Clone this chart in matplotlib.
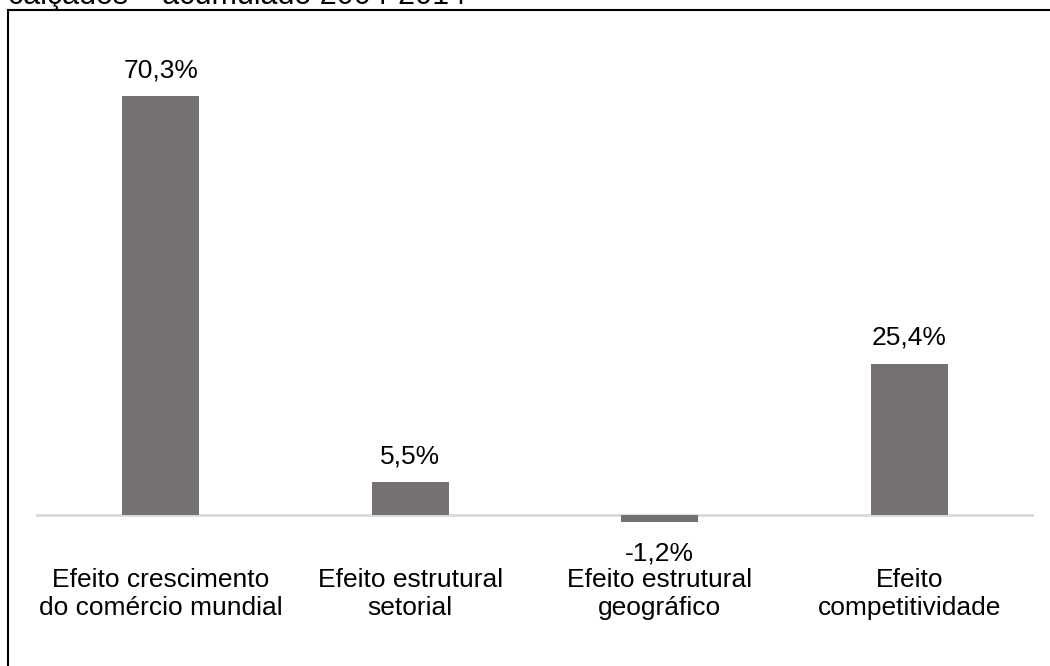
import matplotlib.pyplot as plt
from matplotlib.lines import Line2D

plt.rcParams['font.family'] = ['Liberation Sans', 'DejaVu Sans']

categories = ['Efeito crescimento\ndo comércio mundial', 'Efeito estrutural\nsetorial',
              'Efeito estrutural\ngeográfico', 'Efeito\ncompetitividade']
values = [70.3, 5.5, -1.2, 25.4]
labels = ['70,3%', '5,5%', '-1,2%', '25,4%']

W, H = 1050, 666
fig = plt.figure(figsize=(W / 100, H / 100), dpi=100)

# axes placed in pixel units: x 36..1034, y 40..600 (from top)
ax = fig.add_axes([36 / W, 1 - 600 / H, (1034 - 36) / W, (600 - 40) / H])
ppu = 5.96  # pixels per percentage point
ax.set_ylim(-(600 - 515) / ppu, (515 - 40) / ppu)
ax.set_xlim(-0.5, len(values) - 0.5)

x = range(len(values))
ax.bar(x, values, width=0.31, color='#767171', zorder=2)
ax.axhline(0, color='#d9d9d9', linewidth=2, zorder=1)

for i, (v, s) in enumerate(zip(values, labels)):
    dy = 18.5 if v >= 0 else -22.5
    ax.annotate(s, (i, v), xytext=(0, dy), textcoords='offset points',
                ha='center', va='center', fontsize=19)

ax.set_xticks([])
ax.set_yticks([])
for sp in ax.spines.values():
    sp.set_visible(False)
ax.patch.set_alpha(0)

# category labels under the baseline
for i, c in enumerate(categories):
    fig.text((36 + (i + 0.5) * (1034 - 36) / 4) / W, 1 - 594 / H, c,
             ha='center', va='center', fontsize=19, linespacing=1.2)

# outer frame (left and top edges)
fig.add_artist(Line2D([8 / W, 8 / W], [0, 1 - 10 / H], color='black', linewidth=1.5))
fig.add_artist(Line2D([8 / W, 1], [1 - 10 / H, 1 - 10 / H], color='black', linewidth=1.5))

# title, clipped at the top edge
fig.text(8 / W, 1 - 4 / H, 'calçados – acumulado 2004-2014', ha='left', va='baseline',
         fontsize=22)

fig.savefig('out.png', dpi=100)
